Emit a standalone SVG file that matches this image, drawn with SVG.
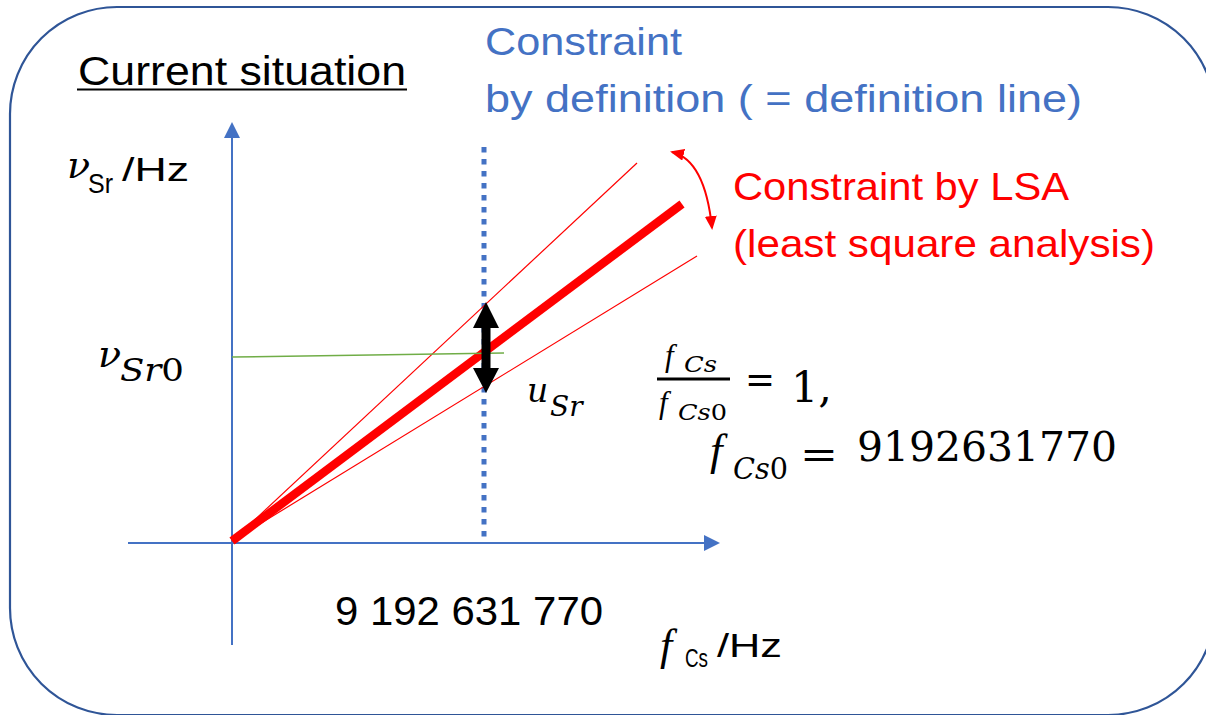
<svg xmlns="http://www.w3.org/2000/svg" width="1206" height="715" viewBox="0 0 1206 715">
<style>
.sans{font-family:"Liberation Sans",Arial,sans-serif}
.math{font-family:"DejaVu Serif","Liberation Serif",serif;font-style:italic}
.mf{font-family:"Liberation Serif","Times New Roman",serif;font-style:italic}
.up{font-style:normal}
.blue{fill:#4472C4}
.red{fill:#FF0000}
.blk{fill:#000000}
.axis{stroke:#4472C4;stroke-width:2;fill:none}
</style>
<defs>
<marker id="axhead" markerWidth="16" markerHeight="16" refX="0" refY="8" orient="auto" markerUnits="userSpaceOnUse" viewBox="0 0 16 16">
<path d="M0,0 L16,8 L0,16 Z" fill="#4472C4"/>
</marker>
<marker id="redhead" markerWidth="14" markerHeight="12" refX="12" refY="6" orient="auto-start-reverse" markerUnits="userSpaceOnUse" viewBox="0 0 14 12">
<path d="M0,0 L14,6 L0,12 Z" fill="#FF0000"/>
</marker>
</defs>
<rect x="0" y="0" width="1206" height="715" fill="#FFFFFF"/>
<g id="frame">
<rect x="10" y="7" width="1205" height="708" rx="107" ry="107" fill="none" stroke="#2F5597" stroke-width="2.2"/>
</g>
<g id="title">
<text class="sans blk" x="78" y="85" font-size="40" textLength="328" lengthAdjust="spacingAndGlyphs">Current situation</text>
<line x1="77" y1="89.5" x2="407" y2="89.5" stroke="#000" stroke-width="2"/>
</g>
<g id="connectors">
<line class="axis" x1="232" y1="645" x2="232" y2="138" marker-end="url(#axhead)"/>
<line class="axis" x1="128" y1="543" x2="704" y2="543" marker-end="url(#axhead)"/>
<line x1="484" y1="147" x2="484" y2="537" stroke="#4472C4" stroke-width="5" stroke-dasharray="5.5 6.5"/>
<line x1="232" y1="541" x2="637" y2="163" stroke="#FF0000" stroke-width="1.2"/>
<line x1="232" y1="541" x2="697" y2="256" stroke="#FF0000" stroke-width="1.2"/>
<line x1="232" y1="541" x2="682" y2="204" stroke="#FF0000" stroke-width="8.5"/>
<line x1="232" y1="357" x2="504" y2="353" stroke="#70AD47" stroke-width="1.5"/>
<path d="M672,152 Q705,160 712,228" fill="none" stroke="#FF0000" stroke-width="2" marker-start="url(#redhead)" marker-end="url(#redhead)"/>
<path d="M486,302 L499,328 L490.5,328 L490.5,368 L499,368 L486,393 L473,368 L481.5,368 L481.5,328 L473,328 Z" fill="#000000"/>
</g>
<g id="label-constraint-def">
<text class="sans blue" x="485" y="55" font-size="39" textLength="197" lengthAdjust="spacingAndGlyphs">Constraint</text>
<text class="sans blue" x="485" y="112" font-size="39" textLength="597" lengthAdjust="spacingAndGlyphs">by definition ( = definition line)</text>
</g>
<g id="label-constraint-lsa">
<text class="sans red" x="733" y="200" font-size="39" textLength="336" lengthAdjust="spacingAndGlyphs">Constraint by LSA</text>
<text class="sans red" x="733" y="257" font-size="39" textLength="422" lengthAdjust="spacingAndGlyphs">(least square analysis)</text>
</g>
<g id="label-y-axis">
<text class="math blk" x="67" y="178" font-size="38">ν</text>
<text class="sans blk" x="88" y="193" font-size="28" textLength="25" lengthAdjust="spacingAndGlyphs">Sr</text>
<text class="sans blk" x="122" y="181" font-size="33" textLength="67" lengthAdjust="spacingAndGlyphs">/Hz</text>
</g>
<g id="label-nu0">
<text class="math blk" x="98" y="367" font-size="38">ν</text>
<text class="math blk" x="120" y="381" font-size="31" textLength="64" lengthAdjust="spacingAndGlyphs">Sr<tspan class="up">0</tspan></text>
</g>
<g id="label-u">
<text class="math blk" x="527" y="402" font-size="33">u</text>
<text class="math blk" x="550" y="416" font-size="28">Sr</text>
</g>
<g id="formula">
<text class="mf blk" x="665" y="366" font-size="31">f</text>
<text class="math blk" x="684" y="372" font-size="23" textLength="33" lengthAdjust="spacingAndGlyphs">Cs</text>
<line x1="657" y1="379" x2="730" y2="379" stroke="#000" stroke-width="3"/>
<text class="mf blk" x="659" y="413" font-size="31">f</text>
<text class="math blk" x="678" y="420" font-size="22" textLength="49" lengthAdjust="spacingAndGlyphs">Cs<tspan class="up">0</tspan></text>
<text class="math up blk" x="745" y="393" font-size="40" textLength="30" lengthAdjust="spacingAndGlyphs">=</text>
<text class="math up blk" x="791" y="402" font-size="43">1,</text>
<text class="mf blk" x="710" y="465" font-size="45">f</text>
<text class="math blk" x="733" y="479" font-size="30" textLength="55" lengthAdjust="spacingAndGlyphs">Cs<tspan class="up">0</tspan></text>
<text class="math up blk" x="800" y="468" font-size="40" textLength="38" lengthAdjust="spacingAndGlyphs">=</text>
<text class="math up blk" x="857" y="461" font-size="41" textLength="260" lengthAdjust="spacingAndGlyphs">9192631770</text>
</g>
<g id="label-x-value">
<text class="sans blk" x="335" y="625" font-size="41" textLength="268" lengthAdjust="spacingAndGlyphs">9 192 631 770</text>
</g>
<g id="label-x-axis">
<text class="mf blk" x="660" y="660" font-size="44">f</text>
<text class="sans blk" x="685" y="667" font-size="25" textLength="23" lengthAdjust="spacingAndGlyphs">Cs</text>
<text class="sans blk" x="717" y="657" font-size="33" textLength="65" lengthAdjust="spacingAndGlyphs">/Hz</text>
</g>
</svg>
